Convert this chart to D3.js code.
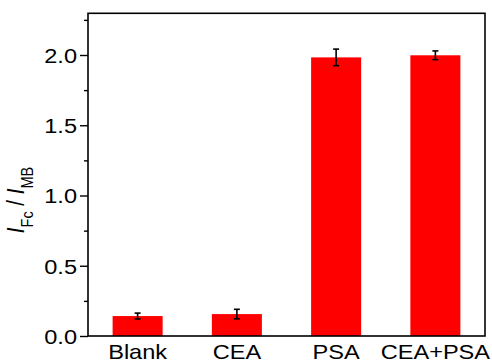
<!DOCTYPE html>
<html><head><meta charset="utf-8">
<script src="https://cdn.jsdelivr.net/npm/d3@7"></script>
<style>html,body{margin:0;padding:0;background:#fff}svg{display:block}text{font-family:"Liberation Sans",Arial,sans-serif;fill:#000}</style>
</head><body><svg id="c" width="492" height="363"></svg>
<script>
const categories = ["Blank", "CEA", "PSA", "CEA+PSA"];
const values = [0.142, 0.156, 1.983, 1.998];
const errors = [0.021, 0.034, 0.059, 0.031];
const yTicks = [0, 0.5, 1.0, 1.5, 2.0];
const yMinorTicks = [0.25, 0.75, 1.25, 1.75, 2.25];

const L = 88, R = 485, T = 13.3, B = 336;
const sx = 1.15, fs = 20.5;
const svg = d3.select("#c");
const x = d3.scaleBand().domain(categories).range([L, R]).paddingInner(0.496).paddingOuter(0.248);
const y = d3.scaleLinear().domain([0, 2]).range([B, 55]);

const g = svg.append("g");
g.selectAll("rect.bar").data(categories).enter().append("rect")
  .attr("x", d => x(d)).attr("width", x.bandwidth())
  .attr("y", (d,i) => y(values[i])).attr("height", (d,i) => B - y(values[i]))
  .attr("fill", "#ff0000");

// error bars
const eb = g.selectAll("g.err").data(categories).enter().append("g")
  .attr("stroke", "#000").attr("stroke-width", 1.6);
eb.append("line").attr("x1", d => x(d) + x.bandwidth()/2).attr("x2", d => x(d) + x.bandwidth()/2)
  .attr("y1", (d,i) => y(values[i] - errors[i])).attr("y2", (d,i) => y(values[i] + errors[i]));
eb.append("line").attr("x1", d => x(d) + x.bandwidth()/2 - 3).attr("x2", d => x(d) + x.bandwidth()/2 + 3)
  .attr("y1", (d,i) => y(values[i] + errors[i])).attr("y2", (d,i) => y(values[i] + errors[i]));
eb.append("line").attr("x1", d => x(d) + x.bandwidth()/2 - 3).attr("x2", d => x(d) + x.bandwidth()/2 + 3)
  .attr("y1", (d,i) => y(values[i] - errors[i])).attr("y2", (d,i) => y(values[i] - errors[i]));

// y axis major
const ya = svg.append("g").attr("transform", `translate(${L},0)`)
  .call(d3.axisLeft(y).tickValues(yTicks).tickFormat(d3.format(".1f")).tickSize(8).tickPadding(3));
ya.select(".domain").remove();
ya.selectAll(".tick line").attr("stroke", "#000").attr("stroke-width", 1.4);
ya.selectAll(".tick text").attr("font-size", fs).attr("font-family", null)
  .attr("x", null).attr("dy", null)
  .attr("transform", `translate(-11,7.3) scale(${sx},1)`);
// minor
const ym = svg.append("g").attr("transform", `translate(${L},0)`)
  .call(d3.axisLeft(y).tickValues(yMinorTicks).tickFormat("").tickSize(4));
ym.select(".domain").remove();
ym.selectAll(".tick line").attr("stroke", "#000").attr("stroke-width", 1.4);

// x labels
svg.append("g").selectAll("text").data(categories).enter().append("text")
  .attr("transform", d => `translate(${x(d) + x.bandwidth()/2},359.3) scale(${sx},1)`)
  .attr("text-anchor", "middle").attr("font-size", fs).text(d => d);

// frame
svg.append("rect").attr("x", L).attr("y", T).attr("width", R - L).attr("height", B - T)
  .attr("fill", "none").attr("stroke", "#000").attr("stroke-width", 1.6);

// y label
const yl = svg.append("text").attr("transform", `translate(24,200) rotate(-90) scale(1,${sx})`)
  .attr("text-anchor", "middle").attr("font-size", 20.5);
yl.append("tspan").attr("font-style", "italic").text("I");
yl.append("tspan").attr("font-size", 14.5).attr("dy", 7.5).text("Fc");
yl.append("tspan").attr("dy", -7.5).text(" / ");
yl.append("tspan").attr("font-style", "italic").text("I");
yl.append("tspan").attr("font-size", 14.5).attr("dy", 7.5).text("MB");
</script></body></html>
